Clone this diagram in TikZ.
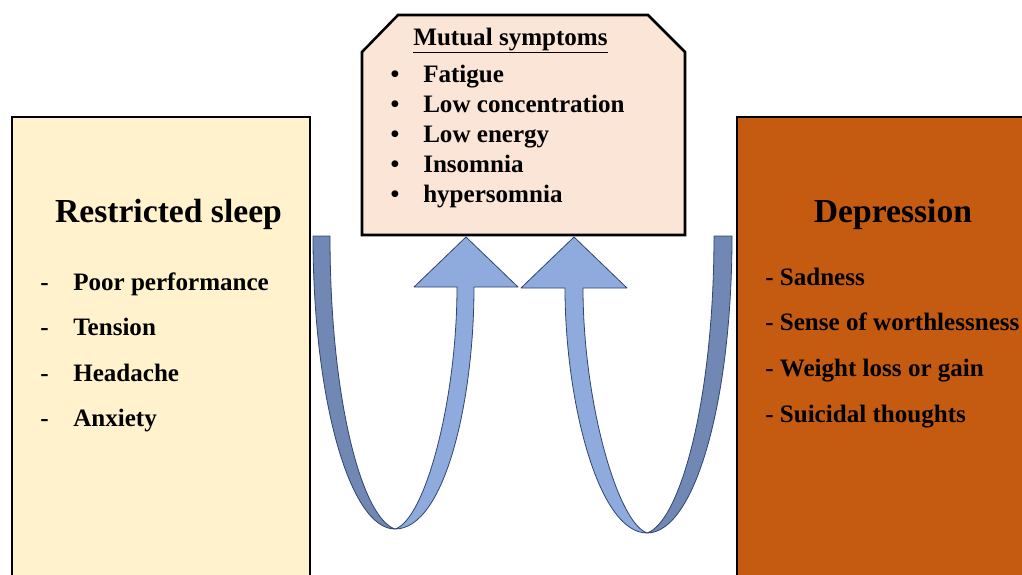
\documentclass[tikz,border=0pt]{standalone}
\usepackage{fontspec}
\setmainfont{Liberation Serif}
\usepackage{tikz}
\usetikzlibrary{positioning}
\definecolor{csleep}{HTML}{FFF2CC}
\definecolor{cdepr}{HTML}{C55A11}
\definecolor{cmutual}{HTML}{FBE5D6}
\definecolor{carrow}{HTML}{8FAADC}
\definecolor{cshade}{HTML}{7088B3}
\definecolor{cedge}{HTML}{2F4470}
\tikzset{
  panel/.style={draw=black,line width=2.2pt},
  headtext/.style={font=\fontsize{25.2}{30}\selectfont\bfseries,inner sep=0pt,anchor=base},
  listtext/.style={font=\fontsize{18.8}{22}\selectfont\bfseries,inner sep=0pt,anchor=base west},
  ribbon/.style={draw=cedge,line width=0.6pt,line join=round},
}

\begin{document}
\begin{tikzpicture}[x=0.75pt,y=-0.75pt]
\useasboundingbox (0,0) rectangle (1022,575);

% ============ Restricted sleep ============
\draw[panel,fill=csleep] (12,117) rectangle (310,600);
\node[headtext] (sleep) at (168.5,222) {Restricted sleep};
\foreach \t [count=\i] in {Poor performance,Tension,Headache,Anxiety} {
  \node[listtext] (sleepdash\i) at (40,{290+45.6*(\i-1)}) {-};
  \node[listtext] (sleep\i) at (73,{290+45.6*(\i-1)}) {\t};
}

% ============ Depression ============
\draw[panel,fill=cdepr] (737,117) rectangle (1040,600);
\node[headtext] (depr) at (893,222) {Depression};
\foreach \t [count=\i] in {Sadness,Sense of worthlessness,Weight loss or gain,Suicidal thoughts} {
  \node[listtext] (depr\i) at (765,{285+45.7*(\i-1)}) {- \t};
}

% ============ Mutual symptoms ============
\draw[black,line width=1.9pt,fill=cmutual] (398,15) -- (648,15) -- (685,52) -- (685,235)
  -- (362,235) -- (362,52) -- cycle;
\node[listtext,anchor=base] (mutual) at (510.5,45) {\underline{Mutual symptoms}};
\foreach \t [count=\i] in {Fatigue,Low concentration,Low energy,Insomnia,hypersomnia} {
  \node[listtext,anchor=base] (bullet\i) at (395,{82+30*(\i-1)}) {\textbullet};
  \node[listtext] (mutual\i) at (423,{82+30*(\i-1)}) {\t};
}

% ============ curved arrows ============
\coordinate (tipL) at (466,237);
\coordinate (tipR) at (574,237);
% left one
\filldraw[ribbon,fill=cshade] (313,236) .. controls (313,400) and (350,529) .. (395,529)
  .. controls (362,518) and (330,400) .. (330,236) -- cycle;
\filldraw[ribbon,fill=carrow] (395,529) .. controls (445,529) and (474,400) .. (474,287)
  -- (518,287) -- (tipL) -- (414,287) -- (457,287)
  .. controls (457,400) and (425,520) .. (395,529) -- cycle;
% right one
\filldraw[ribbon,fill=cshade] (732,236) .. controls (732,400) and (695,533) .. (647,533)
  .. controls (680,522) and (714,400) .. (714,236) -- cycle;
\filldraw[ribbon,fill=carrow] (647,533) .. controls (598,533) and (565,400) .. (565,288)
  -- (521,288) -- (tipR) -- (627,288) -- (583,288)
  .. controls (583,400) and (617,522) .. (647,533) -- cycle;

\end{tikzpicture}
\end{document}
